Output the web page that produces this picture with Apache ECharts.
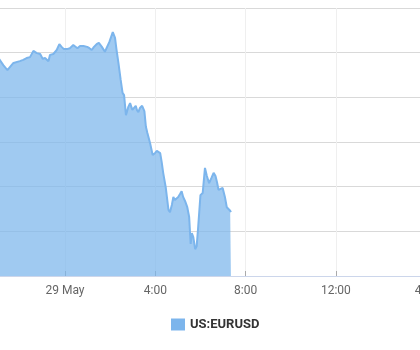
<!DOCTYPE html>
<html>
<head>
<meta charset="utf-8">
<script src="https://cdn.jsdelivr.net/npm/echarts@6/dist/echarts.min.js"></script>
<style>
html,body{margin:0;padding:0;background:#fff;}
#chart{width:420px;height:350px;}
</style>
</head>
<body>
<div id="chart"></div>
<script>
var seriesName = "US:EURUSD";
var times = [
"05-28 21:05","05-28 21:16","05-28 21:27","05-28 21:34","05-28 21:43","05-28 21:47","05-28 22:00","05-28 22:09","05-28 22:18","05-28 22:27",
"05-28 22:36","05-28 22:45","05-28 22:54","05-28 23:01","05-28 23:07","05-28 23:16","05-28 23:20","05-28 23:29","05-28 23:38","05-28 23:45",
"05-28 23:51","05-28 23:57","05-29 00:05","05-29 00:13","05-29 00:22","05-29 00:27","05-29 00:33","05-29 00:40","05-29 00:44","05-29 00:49",
"05-29 00:53","05-29 00:59","05-29 01:05","05-29 01:11","05-29 01:17","05-29 01:24","05-29 01:30","05-29 01:38","05-29 01:46","05-29 01:51",
"05-29 01:58","05-29 02:07","05-29 02:13","05-29 02:17","05-29 02:22","05-29 02:28","05-29 02:33","05-29 02:37","05-29 02:42","05-29 02:48",
"05-29 02:53","05-29 02:59","05-29 03:03","05-29 03:08","05-29 03:11","05-29 03:15","05-29 03:19","05-29 03:25","05-29 03:29","05-29 03:31",
"05-29 03:35","05-29 03:39","05-29 03:46","05-29 03:53","05-29 03:59","05-29 04:04","05-29 04:07","05-29 04:13","05-29 04:17","05-29 04:21",
"05-29 04:28","05-29 04:35","05-29 04:39","05-29 04:44","05-29 04:48","05-29 04:52","05-29 04:57","05-29 05:01","05-29 05:06","05-29 05:10",
"05-29 05:14","05-29 05:19","05-29 05:25","05-29 05:30","05-29 05:34","05-29 05:37","05-29 05:41","05-29 05:46","05-29 05:50","05-29 05:54",
"05-29 06:00","05-29 06:06","05-29 06:12","05-29 06:17","05-29 06:23","05-29 06:29","05-29 06:35","05-29 06:40","05-29 06:44","05-29 06:48",
"05-29 06:53","05-29 06:59","05-29 07:05","05-29 07:10","05-29 07:14","05-29 07:19","05-29 07:21"
];
var prices = [
1.08486,1.08472,1.08461,1.08468,1.08477,1.08479,1.08481,1.08484,1.08488,1.08490,
1.08504,1.08499,1.08497,1.08486,1.08488,1.08481,1.08495,1.08497,1.08506,1.08519,
1.08513,1.08508,1.08508,1.08510,1.08517,1.08513,1.08510,1.08515,1.08519,1.08515,
1.08519,1.08513,1.08510,1.08506,1.08513,1.08519,1.08522,1.08513,1.08502,1.08506,
1.08524,1.08546,1.08533,1.08506,1.08477,1.08439,1.08410,1.08405,1.08360,1.08378,
1.08387,1.08372,1.08376,1.08381,1.08372,1.08367,1.08376,1.08381,1.08381,1.08369,
1.08334,1.08320,1.08298,1.08271,1.08275,1.08280,1.08282,1.08275,1.08255,1.08231,
1.08197,1.08148,1.08143,1.08159,1.08177,1.08170,1.08166,1.08177,1.08184,1.08190,
1.08177,1.08168,1.08154,1.08132,1.08072,1.08096,1.08087,1.08060,1.08067,1.08110,
1.08181,1.08186,1.08242,1.08224,1.08208,1.08219,1.08231,1.08224,1.08210,1.08193,
1.08195,1.08197,1.08177,1.08154,1.08150,1.08146,1.08143
];
var monthNames = ["Jan","Feb","Mar","Apr","May","Jun","Jul","Aug","Sep","Oct","Nov","Dec"];
var baseDay = 29, baseMonth = 5;

function toHours(t){
  var d = parseInt(t.slice(3,5),10);
  var hh = parseInt(t.slice(6,8),10), mm = parseInt(t.slice(9,11),10);
  return (d - baseDay) * 24 + hh + mm / 60;
}
var data = times.map(function(t, i){ return [toHours(t), prices[i]]; });

var chart = echarts.init(document.getElementById('chart'), null, {renderer:'canvas'});
chart.setOption({
  animation: false,
  textStyle: {fontFamily: 'Roboto, "Noto Sans", sans-serif'},
  grid: {left: -25.3, right: -96.5, top: 8, bottom: 74, containLabel: false, outerBoundsMode: 'none'},
  legend: {
    data: [seriesName],
    left: 166, top: 313,
    itemWidth: 14, itemHeight: 12, itemGap: 8,
    icon: 'rect',
    textStyle: {fontSize: 13, fontWeight: 'bold', color: '#333', fontFamily: 'Roboto, "Noto Sans", sans-serif'}
  },
  xAxis: {
    type: 'value', min: -4, max: 20, interval: 4,
    axisLine: {show: true, lineStyle: {color: '#ccd6eb', width: 1}},
    axisTick: {show: true, inside: true, length: 5, lineStyle: {color: '#aaa'}},
    axisLabel: {
      margin: 9, fontSize: 12, color: '#666',
      formatter: function(v){
        var h = Math.round(v);
        if (((h % 24) + 24) % 24 === 0) {
          var day = baseDay + Math.floor(h / 24);
          return day + ' ' + monthNames[baseMonth - 1];
        }
        var hr = ((h % 12) + 12) % 12; if (hr === 0) hr = 12;
        return hr + ':00';
      }
    },
    splitLine: {show: true, lineStyle: {color: '#efefef', width: 1}}
  },
  yAxis: {
    type: 'value', min: 1.080, max: 1.086, interval: 0.001,
    axisLine: {show: false}, axisTick: {show: false},
    axisLabel: {show: false},
    splitLine: {show: true, lineStyle: {color: '#d9d9d9', width: 1}}
  },
  series: [{
    name: seriesName,
    type: 'line',
    data: data,
    showSymbol: false,
    symbol: 'none',
    lineStyle: {color: '#7cb5ec', width: 2},
    itemStyle: {color: '#7cb5ec'},
    areaStyle: {color: '#7cb5ec', opacity: 0.72, origin: 'start'}
  }]
});
</script>
</body>
</html>
